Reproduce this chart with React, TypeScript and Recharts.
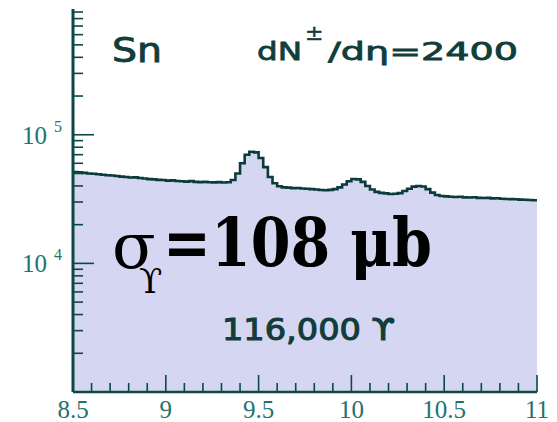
import React from "react";
import { ComposedChart, Area, XAxis, YAxis } from "recharts";

const massX = [
  8.5, 8.525, 8.55, 8.575, 8.6, 8.625, 8.65, 8.675, 8.7, 8.725,
  8.75, 8.775, 8.8, 8.825, 8.85, 8.875, 8.9, 8.925, 8.95, 8.975,
  9.0, 9.025, 9.05, 9.075, 9.1, 9.125, 9.15, 9.175, 9.2, 9.225,
  9.25, 9.275, 9.3, 9.325, 9.35, 9.375, 9.4, 9.425, 9.45, 9.475,
  9.5, 9.525, 9.55, 9.575, 9.6, 9.625, 9.65, 9.675, 9.7, 9.725,
  9.75, 9.775, 9.8, 9.825, 9.85, 9.875, 9.9, 9.925, 9.95, 9.975,
  10.0, 10.025, 10.05, 10.075, 10.1, 10.125, 10.15, 10.175, 10.2, 10.225,
  10.25, 10.275, 10.3, 10.325, 10.35, 10.375, 10.4, 10.425, 10.45, 10.475,
  10.5, 10.525, 10.55, 10.575, 10.6, 10.625, 10.65, 10.675, 10.7, 10.725,
  10.75, 10.775, 10.8, 10.825, 10.85, 10.875, 10.9, 10.925, 10.95, 10.975,
  11.0,
];

const counts = [
  51400, 51000, 50500, 50000, 49700, 49300, 48900, 48500, 48200, 47800,
  47300, 47000, 46500, 46600, 46100, 45700, 45200, 45000, 44600, 44500,
  44000, 44200, 43700, 43500, 43200, 43600, 43000, 42800, 43000, 42700,
  42600, 42800, 42500, 42700, 44500, 50000, 60000, 70000, 73700, 73000,
  66000, 56000, 47000, 42000, 39800, 39000, 38800, 38500, 38600, 38200,
  38000, 37800, 37500, 37200, 37000, 37300, 37800, 39000, 41000, 43500,
  45300, 45000, 43000, 40000, 37500, 36000, 35300, 35000, 34600, 34800,
  35200, 36500, 38000, 39500, 40000, 39600, 37800, 35500, 34000, 33400,
  33200, 33000, 32800, 33000, 32600, 32500, 32700, 32300, 32200, 32300,
  32000, 32100, 31800, 31700, 31600, 31500, 31300, 31200, 31100, 31000,
  30800,
];

const xMajorTicks = [8.5, 9, 9.5, 10, 10.5, 11];
const xMajorLabels = ["8.5", "9", "9.5", "10", "10.5", "11"];
const xAllTicks = [
  8.5, 8.6, 8.7, 8.8, 8.9, 9, 9.1, 9.2, 9.3, 9.4, 9.5, 9.6, 9.7, 9.8, 9.9,
  10, 10.1, 10.2, 10.3, 10.4, 10.5, 10.6, 10.7, 10.8, 10.9, 11,
];
const yMajorTicks = [10000, 100000];
const yMajorExponents = ["4", "5"];
const yAllTicks = [
  2000, 3000, 4000, 5000, 6000, 7000, 8000, 9000, 10000,
  20000, 30000, 40000, 50000, 60000, 70000, 80000, 90000, 100000,
  200000, 300000, 400000, 500000, 600000, 700000, 800000, 900000,
];

const data = massX.map((m, i) => ({ m, n: counts[i] }));

const AXIS = "#0c4845";
const LABEL = "#23736c";
const TEXT = "#113d3b";

const XTick = (props: any) => {
  const { x, y, payload } = props;
  const idx = xMajorTicks.findIndex((v) => Math.abs(v - payload.value) < 1e-6);
  const major = idx >= 0;
  return (
    <g>
      <line x1={x} x2={x} y1={y} y2={y - (major ? 17 : 9)} stroke={AXIS} strokeWidth={1.6} />
      {major && (
        <text x={x} y={y + 26} textAnchor="middle" fontFamily="Liberation Serif" fontSize={25} fill={LABEL}>
          {xMajorLabels[idx]}
        </text>
      )}
    </g>
  );
};

const YTick = (props: any) => {
  const { x, y, payload } = props;
  const idx = yMajorTicks.findIndex((v) => Math.abs(v - payload.value) < 1e-3);
  const major = idx >= 0;
  return (
    <g>
      <line x1={x} x2={x + (major ? 21 : 10)} y1={y} y2={y} stroke={AXIS} strokeWidth={1.6} />
      {major && (
        <text x={x - 51} y={y + 9} fontFamily="Liberation Serif" fontSize={25} fill={LABEL}>
          10
          <tspan x={x - 19} y={y - 3} fontSize={16}>
            {yMajorExponents[idx]}
          </tspan>
        </text>
      )}
    </g>
  );
};

export default function App() {
  return (
    <div style={{ position: "absolute", left: 0, top: 0, width: 557, height: 422, background: "#fff" }}>
      <ComposedChart
        width={557}
        height={422}
        data={data}
        margin={{ top: 9, right: 20, left: 0, bottom: 0 }}
      >
        <XAxis
          dataKey="m"
          type="number"
          domain={[8.5, 11]}
          ticks={xAllTicks}
          interval={0}
          tickLine={false}
          tickSize={0}
          tickMargin={0}
          tick={<XTick />}
          height={30}
          axisLine={{ stroke: AXIS, strokeWidth: 2.5 }}
          allowDataOverflow
        />
        <XAxis
          xAxisId="top"
          orientation="top"
          dataKey="m"
          type="number"
          domain={[8.5, 11]}
          tick={false}
          tickLine={false}
          height={0}
          axisLine={{ stroke: "#2e8a83", strokeWidth: 1.5 }}
        />
        <YAxis
          type="number"
          scale="log"
          domain={[1000, 950000]}
          ticks={yAllTicks}
          interval={0}
          tickLine={false}
          tickSize={0}
          tickMargin={0}
          tick={<YTick />}
          width={73}
          axisLine={{ stroke: AXIS, strokeWidth: 3 }}
          allowDataOverflow
        />
        <YAxis
          yAxisId="right"
          orientation="right"
          type="number"
          scale="log"
          domain={[1000, 950000]}
          tick={false}
          tickLine={false}
          width={0}
          axisLine={{ stroke: "#2e8a83", strokeWidth: 1.5 }}
          allowDataOverflow
        />
        <Area
          dataKey="n"
          type="stepAfter"
          baseValue="dataMin"
          fill="#d5d7f2"
          fillOpacity={1}
          stroke="#0b3b3a"
          strokeWidth={2.6}
          isAnimationActive={false}
          dot={false}
          activeDot={false}
        />
      </ComposedChart>
      <svg
        width={557}
        height={422}
        style={{ position: "absolute", left: 0, top: 0, pointerEvents: "none" }}
      >
        <text x={112} y={62} fontFamily="DejaVu Sans" fontSize={33} textLength={50} lengthAdjust="spacingAndGlyphs" fill={TEXT} stroke={TEXT} strokeWidth={0.9}>
          Sn
        </text>
        <text x={257} y={60} fontFamily="DejaVu Sans" fontSize={25} fill={TEXT} stroke={TEXT} strokeWidth={0.8}>
          <tspan x={257} y={60} textLength={45} lengthAdjust="spacingAndGlyphs">dN</tspan>
          <tspan x={305} y={40} fontSize={22} strokeWidth={0.5}>±</tspan>
          <tspan x={328} y={60} textLength={190} lengthAdjust="spacingAndGlyphs">/dη=2400</tspan>
        </text>
        <text x={112} y={268} fontFamily="DejaVu Serif" fontSize={64} fill="#000">
          σ
          <tspan x={139} y={293} fontSize={34}>ϒ</tspan>
          <tspan x={163} y={266} fontWeight="bold" fontSize={68} textLength={269} lengthAdjust="spacingAndGlyphs">=108 μb</tspan>
        </text>
        <text x={222} y={340} fontFamily="DejaVu Sans" fontSize={30} textLength={173} lengthAdjust="spacingAndGlyphs" fill={TEXT} stroke={TEXT} strokeWidth={1.1}>
          116,000 ϒ
        </text>
      </svg>
    </div>
  );
}
